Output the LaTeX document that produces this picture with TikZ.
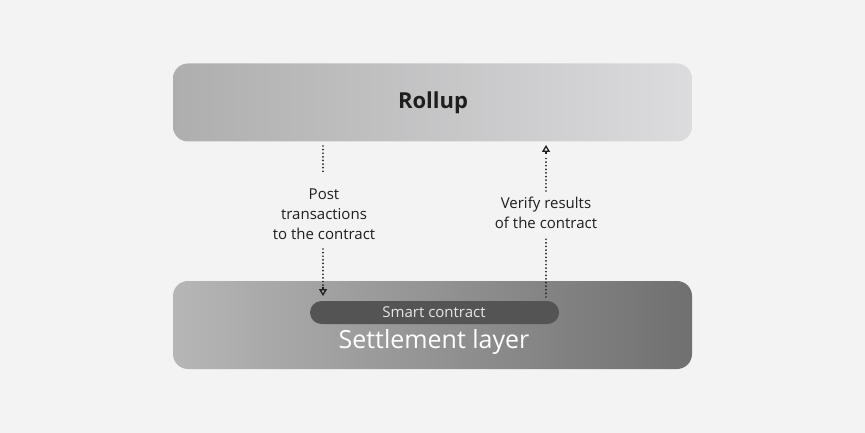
\documentclass[tikz,border=0pt]{standalone}
\usepackage{fontspec}
\setmainfont{Open Sans}
\usetikzlibrary{arrows.meta}
\definecolor{bg}{HTML}{F3F3F3}
\definecolor{rollL}{HTML}{AEAEAF}
\definecolor{rollR}{HTML}{DCDCDE}
\definecolor{setL}{HTML}{B6B6B7}
\definecolor{setR}{HTML}{707071}
\definecolor{pill}{HTML}{545455}
\definecolor{pilltext}{HTML}{E6E6E6}
\definecolor{ink}{HTML}{1E1E1E}
\tikzset{
  layerbox/.style={rounded corners=15pt, minimum width=519pt, inner sep=0pt},
  dotline/.style={draw=ink, line width=1.9pt, dash pattern=on 0.01pt off 3.6pt, line cap=round},
  tipdown/.style={-{Triangle[open,length=7pt,width=8pt,line width=1.3pt]}},
  lbl/.style={align=center, text=ink, font=\fontsize{15}{20}\selectfont, inner sep=0pt},
}
\begin{document}
\begin{tikzpicture}[x=1pt,y=-1pt]
\useasboundingbox (0,0) rectangle (865,433);
\fill[bg] (0,0) rectangle (865,433);
% Rollup
\node[layerbox, minimum height=78pt, left color=rollL, right color=rollR] (rollup) at (432.5,102.5) {};
\node[text=ink, font=\fontsize{22}{26}\selectfont\bfseries] (rolluptxt) at (433,103) {Rollup};
% Settlement
\node[layerbox, minimum height=88pt, left color=setL, right color=setR] (settle) at (432.5,325) {};
\node[rounded corners=11.5pt, fill=pill, minimum width=249pt, minimum height=23pt, inner sep=0pt] (pill) at (434.5,312.5) {};
\node[text=pilltext, font=\fontsize{15}{18}\selectfont] (pilltxt) at (434,312) {Smart contract};
\node[text=white, font=\fontsize{25}{30}\selectfont] (settletxt) at (434,342) {Settlement layer};
% labels
\node[lbl] (postlbl) at (324,214) {Post\\transactions\\to the contract};
\node[lbl] (verlbl) at (546,213) {Verify results\\of the contract};
% connectors
\coordinate (p1) at (323,146);
\coordinate (p1b) at (323,174);
\coordinate (p2) at (323,249);
\coordinate (p3) at (323,296);
\draw[dotline] (p1) -- (p1b);
\draw[dotline] (p2) -- (323,288);
\draw[tipdown, line width=1.3pt, draw=ink] (323,287) -- (p3);
\coordinate (v1) at (546,297);
\coordinate (v2) at (546,236);
\coordinate (v3) at (546,191);
\coordinate (v4) at (546,145);
\draw[dotline] (v1) -- (v2);
\draw[dotline] (v3) -- (546,155);
\draw[tipdown, line width=1.3pt, draw=ink] (546,154) -- (v4);
\end{tikzpicture}
\end{document}
